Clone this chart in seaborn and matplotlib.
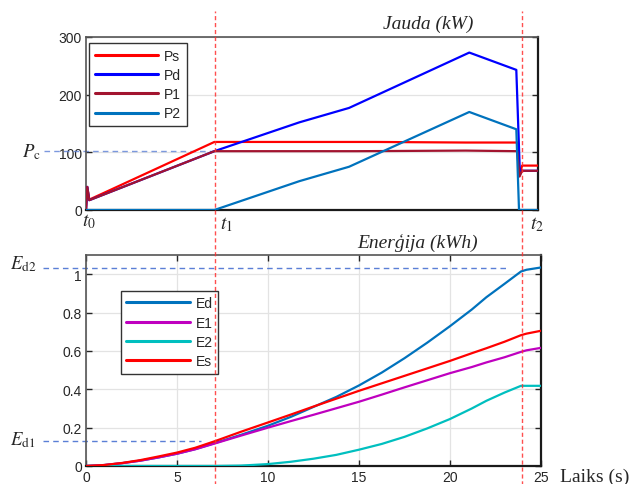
import numpy as np
import pandas as pd
import matplotlib
matplotlib.use('Agg')
import matplotlib.pyplot as plt
import seaborn as sns
from matplotlib.transforms import blended_transform_factory as blend

sns.set_theme(style='white')
plt.rcParams['font.family'] = ['Liberation Sans', 'DejaVu Sans']
plt.rcParams['mathtext.fontset'] = 'stix'

# ---------------- data: power (kW) ----------------
t_ps = [0, 0.07, 0.18, 7.1, 12, 16, 21, 23.85, 23.98, 24.12, 25]
ps = [0, 40, 18, 118, 118, 118, 117, 117, 60, 77, 77]
t_pd = [0, 0.07, 0.18, 7.1, 11.8, 14.55, 21.2, 23.8, 24.0, 24.12, 25]
pdv = [0, 40, 17, 102, 152, 177, 273, 243, 62, 68, 68]
t_p1 = [0, 0.07, 0.18, 7.1, 15, 21, 23.85, 23.98, 24.12, 25]
p1 = [0, 40, 17, 102, 102, 103, 102, 58, 68, 68]
t_p2 = [0, 7.1, 11.8, 14.55, 21.2, 23.8, 23.95, 25]
p2 = [0, 0, 50, 75, 170, 140, 0, 0]

# ---------------- data: energy (kWh) ----------------
t_e = [0, 1, 2, 3, 4, 5, 6, 7.1, 8.5, 10, 11.25, 12.5, 13.75, 15, 16.25,
       17.5, 18.75, 20, 21.2, 22, 23, 23.9, 24.2, 25]
ed = [0, 0.005, 0.015, 0.028, 0.045, 0.064, 0.088, 0.12, 0.162, 0.21, 0.256,
      0.308, 0.36, 0.42, 0.487, 0.562, 0.643, 0.729, 0.816, 0.88, 0.95, 1.014,
      1.023, 1.035]
e1 = [0, 0.005, 0.015, 0.028, 0.045, 0.064, 0.087, 0.118, 0.158, 0.2, 0.234,
      0.267, 0.301, 0.335, 0.372, 0.41, 0.447, 0.484, 0.516, 0.54, 0.567, 0.595,
      0.603, 0.616]
e2 = [0, 0, 0, 0, 0, 0, 0, 0, 0.002, 0.01, 0.022, 0.038, 0.058, 0.085, 0.115,
      0.152, 0.196, 0.245, 0.3, 0.34, 0.383, 0.418, 0.418, 0.418]
es = [0, 0.005, 0.016, 0.031, 0.05, 0.07, 0.095, 0.13, 0.178, 0.227, 0.268,
      0.31, 0.351, 0.392, 0.431, 0.47, 0.509, 0.548, 0.588, 0.614, 0.648, 0.682,
      0.69, 0.705]

t_marks = [7.1, 23.95]          # t1, t2
Pc = 102
Ed1 = 0.129
Ed2 = 1.03

power_ticks = [0, 100, 200, 300]
energy_ticks = [0, 0.2, 0.4, 0.6, 0.8, 1.0]
energy_ticklabels = ['0', '0.2', '0.4', '0.6', '0.8', '1']
time_ticks = [0, 5, 10, 15, 20, 25]

# ---------------- figure ----------------
W, H = 631, 485
fig = plt.figure(figsize=(W / 100, H / 100), dpi=100)
ax1 = fig.add_axes([86 / W, 1 - 211 / H, 452 / W, 173 / H])
ax2 = fig.add_axes([86 / W, 1 - 467 / H, 455 / W, 211 / H])

LW = 1.6
series_top = [("Ps", t_ps, ps, '#ff0000'), ("Pd", t_pd, pdv, '#0000ff'),
              ("P1", t_p1, p1, '#a2142f'), ("P2", t_p2, p2, '#0072bd')]
for name, tx, yv, c in series_top:
    sns.lineplot(x=tx, y=yv, ax=ax1, color=c, lw=LW, label=name,
                 estimator=None, sort=False, zorder=3)

series_bot = [("Ed", ed, '#0072bd'), ("E1", e1, '#bf00bf'),
              ("E2", e2, '#00bfbf'), ("Es", es, '#ff0000')]
for name, yv, c in series_bot:
    sns.lineplot(x=t_e, y=yv, ax=ax2, color=c, lw=LW, label=name,
                 estimator=None, sort=False, zorder=3)

tick_col = '#262626'
for ax in (ax1, ax2):
    ax.set_xlim(0, 25)
    ax.set_xlabel('')
    ax.set_ylabel('')
    ax.tick_params(direction='in', length=4, width=1, colors=tick_col,
                   labelsize=10, left=True, right=True, top=True, bottom=True,
                   pad=3)
    for s in ('left', 'top'):
        ax.spines[s].set_color('#555555')
        ax.spines[s].set_linewidth(1.2)
    for s in ('right', 'bottom'):
        ax.spines[s].set_color('#1a1a1a')
        ax.spines[s].set_linewidth(1.6)

ax1.set_ylim(0, 300)
ax1.set_yticks(power_ticks)
ax1.set_xticks([])
ax1.yaxis.grid(True, color='#e3e3e3', lw=0.9, zorder=0)
ax1.xaxis.grid(False)
ax1.set_facecolor('none')

ax2.set_ylim(0, 1.1)
ax2.set_yticks(energy_ticks)
ax2.set_yticklabels(energy_ticklabels)
ax2.set_xticks(time_ticks)
ax2.grid(True, color='#e3e3e3', lw=0.9, zorder=0)
ax2.set_axisbelow(True)
ax1.set_axisbelow(True)

leg_kw = dict(loc='upper left', borderaxespad=0, frameon=True, fancybox=False,
              framealpha=1, edgecolor='#333333', fontsize=10,
              handlelength=4.6, handletextpad=0.4, labelspacing=0.38,
              borderpad=0.4, alignment='left')
L1 = ax1.legend(bbox_to_anchor=(3 / 452, 1 - 6 / 173), **leg_kw)
L2 = ax2.legend(bbox_to_anchor=(34.7 / 455, 1 - 35.7 / 211), **leg_kw)
for L in (L1, L2):
    L.get_frame().set_linewidth(1.0)
    for line in L.get_lines():
        line.set_linewidth(2.2)

# ---- vertical red dashed markers spanning both axes ----
for tm in t_marks:
    ax2.axvline(tm, ymin=-0.09, ymax=(467 - 12) / 211, clip_on=False,
                color='#ff3030', lw=1.0, dashes=(3, 2), alpha=0.85, zorder=10)

# ---- horizontal leader lines ----
lead_col = '#5b7fd6'
LEAD_START = -2.35
ax1.plot([LEAD_START, t_marks[0]], [Pc, Pc], clip_on=False, color=lead_col,
         lw=1.0, dashes=(4, 3), alpha=0.8, zorder=2)
ax2.plot([LEAD_START, 6.3], [Ed1, Ed1], clip_on=False, color=lead_col,
         lw=1.0, dashes=(4, 3), zorder=2)
ax2.plot([LEAD_START, 23.1], [Ed2, Ed2], clip_on=False, color=lead_col,
         lw=1.0, dashes=(4, 3), zorder=2)

serif = ['Liberation Serif', 'DejaVu Serif']
tr1 = blend(fig.transFigure, ax1.transData)
tr2 = blend(fig.transFigure, ax2.transData)
ax1.text(22 / W, Pc, r'$P_{\mathrm{c}}$', transform=tr1, fontsize=13.5,
         ha='left', va='center')
ax2.text(10 / W, Ed2 + 0.03, r'$E_{\mathrm{d2}}$', transform=tr2,
         fontsize=13.5, ha='left', va='center')
ax2.text(10 / W, Ed1 + 0.01, r'$E_{\mathrm{d1}}$', transform=tr2,
         fontsize=13.5, ha='left', va='center')

# time labels t0, t1, t2
fig.text(82 / W, 1 - 222 / H, r'$t_0$', fontsize=14, ha='left', va='center')
fig.text(220 / W, 1 - 225 / H, r'$t_1$', fontsize=14, ha='left', va='center')
fig.text(530 / W, 1 - 225 / H, r'$t_2$', fontsize=14, ha='left', va='center')

fig.text(428 / W, 1 - 24 / H, 'Jauda (kW)', family=serif, style='italic',
         fontsize=14, ha='center', va='center')
fig.text(417.5 / W, 1 - 244 / H, 'Enerģija (kWh)', family=serif,
         style='italic', fontsize=14, ha='center', va='center')
fig.text(594.5 / W, 1 - 477 / H, 'Laiks (s)', family=serif, fontsize=14,
         ha='center', va='center')

fig.savefig('out.png', dpi=100, facecolor='white')
